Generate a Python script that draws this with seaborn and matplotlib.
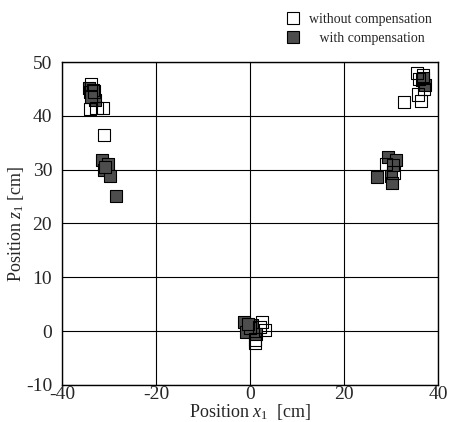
import matplotlib
matplotlib.use("Agg")
import matplotlib.pyplot as plt
import seaborn as sns
import pandas as pd
from matplotlib.lines import Line2D

sns.set_style("white")
plt.rcParams['font.family'] = ['Liberation Serif', 'DejaVu Serif']
plt.rcParams['mathtext.fontset'] = 'custom'
plt.rcParams['mathtext.it'] = 'Liberation Serif:italic'
plt.rcParams['mathtext.rm'] = 'Liberation Serif'
plt.rcParams['axes.unicode_minus'] = False

# without compensation (open squares)
x_without = [-34.0, -32.6, -31.3, -33.8, -33.2, -31.1,
             35.5, 36.0, 37.0, 32.8, 36.4, 35.8, 36.8,
             29.0, 30.5,
             3.2, 2.6, 1.1, 1.1, 2.0]
z_without = [41.3, 41.5, 41.5, 45.9, 44.5, 36.4,
             48.0, 46.8, 45.0, 42.6, 42.8, 44.0, 47.5,
             31.0, 29.5,
             0.2, 1.7, -1.6, -2.2, 0.8]

# with compensation (filled squares)
x_with = [-34.3, -33.6, -33.0, -34.0, -33.3, -33.8,
          -31.5, -30.2, -31.1, -29.8, -30.8, -28.5,
          36.6, 37.2, 36.8,
          29.4, 31.1, 27.0, 30.0, 30.2, 30.4,
          -1.3, 0.4, -0.9, 1.3, 0.0, -0.5]
z_with = [45.2, 43.9, 42.9, 44.4, 44.8, 43.5,
          31.8, 31.1, 29.9, 28.8, 30.5, 25.1,
          46.7, 45.7, 47.0,
          32.4, 31.8, 28.6, 28.8, 27.5, 30.9,
          1.7, 1.1, -0.2, -0.5, 0.5, 1.3]

x_ticks = [-40, -20, 0, 20, 40]
z_ticks = [-10, 0, 10, 20, 30, 40, 50]
label_without = "without compensation"
label_with = "with compensation"

df = pd.DataFrame({
    "x": x_without + x_with,
    "z": z_without + z_with,
    "series": [label_without] * len(x_without) + [label_with] * len(x_with),
})

fig = plt.figure(figsize=(4.52, 4.22), dpi=100)
ax = fig.add_axes([0.137, 0.088, 0.832, 0.765])

sns.scatterplot(data=df[df.series == label_with], x="x", y="z", marker="s",
                s=80, color="#4d4d4d", edgecolor="black", linewidth=0.8,
                ax=ax, legend=False, zorder=3)
sns.scatterplot(data=df[df.series == label_without], x="x", y="z", marker="s",
                s=80, facecolor="none", edgecolor="black", linewidth=0.8,
                ax=ax, legend=False, zorder=4)

ax.set_xlim(-40, 40)
ax.set_ylim(-10, 50)
ax.set_xticks(x_ticks)
ax.set_yticks(z_ticks)
ax.grid(True, color="black", linewidth=0.8)
ax.set_axisbelow(True)
for sp in ax.spines.values():
    sp.set_color("black")
    sp.set_linewidth(1.0)
ax.tick_params(axis="x", labelsize=14, length=0, pad=1)
ax.tick_params(axis="y", labelsize=14, length=0, pad=7)
ax.set_xlabel(r"Position $x_1$  [cm]", fontsize=13, labelpad=-1)
ax.set_ylabel(r"Position $z_1$ [cm]", fontsize=13, labelpad=0)

handles = [
    Line2D([], [], marker="s", linestyle="none", markersize=9,
           markerfacecolor="white", markeredgecolor="black", markeredgewidth=0.8),
    Line2D([], [], marker="s", linestyle="none", markersize=9,
           markerfacecolor="#4d4d4d", markeredgecolor="black", markeredgewidth=0.8),
]
fig.legend(handles, [label_without, "   " + label_with], loc="upper left",
           bbox_to_anchor=(0.60, 0.99), frameon=False, fontsize=10,
           handletextpad=0.1, labelspacing=0.45, borderaxespad=0.2)

fig.savefig("out.png", dpi=100)
